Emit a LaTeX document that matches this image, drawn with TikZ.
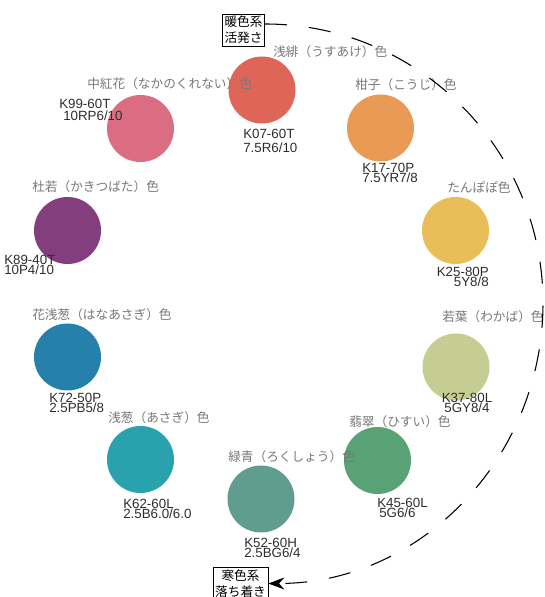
\documentclass[tikz,border=0pt]{standalone}
\usepackage{fontspec}
\setmainfont{Liberation Sans}
\newfontfamily\jpfont{Noto Sans CJK JP}
\usetikzlibrary{arrows.meta}
\definecolor{cRed}{RGB}{224,101,89}
\definecolor{cPink}{RGB}{219,109,130}
\definecolor{cOrange}{RGB}{233,154,84}
\definecolor{cYellow}{RGB}{233,189,87}
\definecolor{cLime}{RGB}{198,205,146}
\definecolor{cGreen}{RGB}{88,162,117}
\definecolor{cTeal}{RGB}{95,158,143}
\definecolor{cCyan}{RGB}{42,162,174}
\definecolor{cBlue}{RGB}{37,129,171}
\definecolor{cPurple}{RGB}{132,62,126}
\definecolor{labelgray}{RGB}{120,120,120}
\definecolor{codegray}{RGB}{45,45,45}
\newcommand\codesize[1]{\fontsize{10}{#1}\selectfont\setlength{\lineskiplimit}{-10pt}}
\begin{document}
\begin{tikzpicture}[x=0.75pt,y=0.75pt,
  swatch/.style={circle, inner sep=0pt, minimum size=50.25pt, draw=none},
  cname/.style={font=\jpfont\fontsize{9.5}{11}\selectfont, text=labelgray, inner sep=0pt, anchor=west},
  code/.style={font=\codesize{7.5}, text=codegray, inner sep=0pt, align=left, anchor=north west},
  tone/.style={draw, line width=0.6pt, inner sep=1.6pt, align=center, font=\jpfont\fontsize{9.5}{12}\selectfont}]
\useasboundingbox (0,0) rectangle (544,597);
% swatches
\node[swatch, fill=cRed] (asake) at (262,507) {};
\node[swatch, fill=cPink] (nakabeni) at (140.5,468.5) {};
\node[swatch, fill=cOrange] (kouji) at (380.5,469) {};
\node[swatch, fill=cYellow] (tanpopo) at (455.5,366.5) {};
\node[swatch, fill=cLime] (wakaba) at (456,230) {};
\node[swatch, fill=cGreen] (hisui) at (377.5,136.5) {};
\node[swatch, fill=cTeal] (rokusho) at (261,98) {};
\node[swatch, fill=cCyan] (asagi) at (140.5,137.5) {};
\node[swatch, fill=cBlue] (hanaasagi) at (67.5,240) {};
\node[swatch, fill=cPurple] (kakitsubata) at (67.5,366.5) {};
% names
\node[cname] (asakeL) at (273,545) {浅緋（うすあけ）色};
\node[cname] (nakabeniL) at (87,513) {中紅花（なかのくれない）色};
\node[cname] (koujiL) at (355,512) {柑子（こうじ）色};
\node[cname] (tanpopoL) at (447,410) {たんぽぽ色};
\node[cname] (kakitsubataL) at (32,410) {杜若（かきつばた）色};
\node[cname] (wakabaL) at (442,280) {若葉（わかば）色};
\node[cname] (hanaasagiL) at (32,282) {花浅葱（はなあさぎ）色};
\node[cname] (asagiL) at (108,179) {浅葱（あさぎ）色};
\node[cname] (rokushoL) at (228,140) {緑青（ろくしょう）色};
\node[cname] (hisuiL) at (349,175) {翡翠（ひすい）色};
% codes
\node[code, font=\codesize{10.5}] (asakeC) at (243,468.5) {K07-60T\\7.5R6/10};
\node[code, font=\codesize{9}] (nakabeniC) at (59,498.5) {K99-60T\\\hspace*{3pt}10RP6/10};
\node[code] (koujiC) at (362,434.5) {K17-70P\\7.5YR7/8};
\node[code, align=right, anchor=north east] (tanpopoC) at (489,330.5) {K25-80P\\5Y8/8};
\node[code, align=center, anchor=north] (wakabaC) at (467,204.5) {K37-80L\\5GY8/4};
\node[code] (hisuiC) at (377,99.5) {K45-60L\\\hspace*{1.5pt}5G6/6};
\node[code] (rokushoC) at (244,59.5) {K52-60H\\2.5BG6/4};
\node[code] (asagiC) at (123,98.5) {K62-60L\\2.5B6.0/6.0};
\node[code] (hanaasagiC) at (49,204.5) {K72-50P\\2.5PB5/8};
\node[code] (kakitsubataC) at (4,342.5) {K89-40T\\10P4/10};
% tone boxes
\node[tone] (warm) at (243.5,567) {暖色系\\活発さ};
\node[tone] (cold) at (240.5,13.5) {寒色系\\落ち着き};
\coordinate (rmid) at (543,294);
\draw[line width=0.8pt, dash pattern=on 16.5pt off 16.5pt,
      -{Stealth[length=12pt, width=9pt, inset=4pt]}]
  ([yshift=4.5pt]warm.east) to[out=0,in=90] (rmid)
  to[out=-90,in=0] (cold.east);
\end{tikzpicture}
\end{document}
